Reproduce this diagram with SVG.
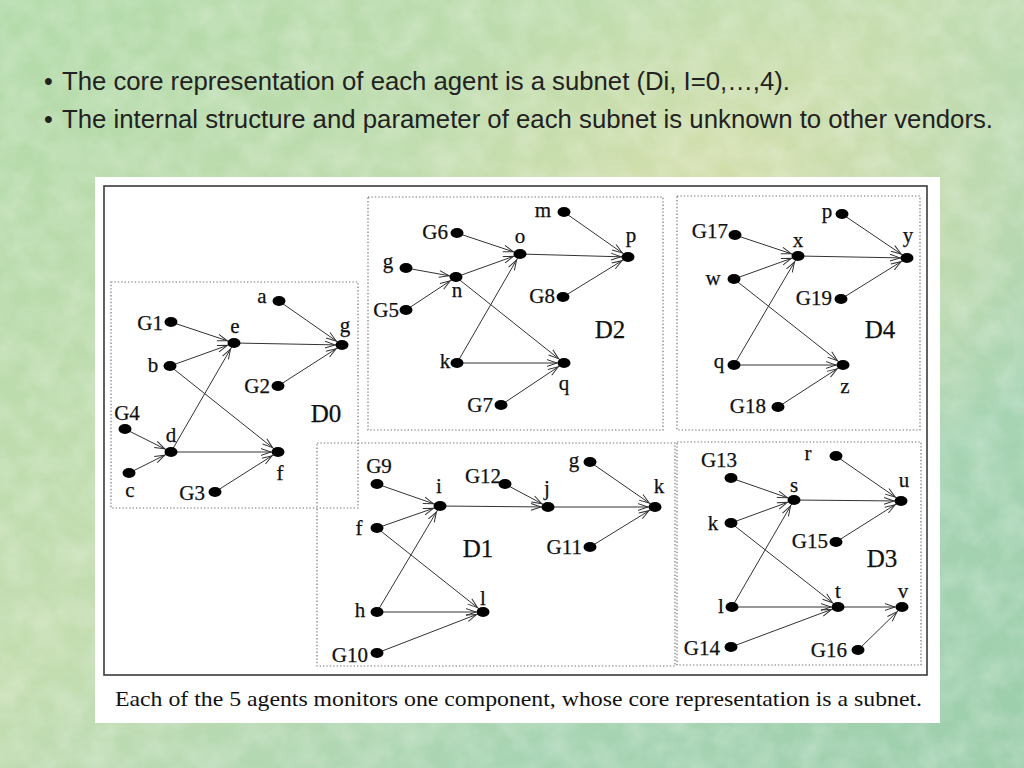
<svg xmlns="http://www.w3.org/2000/svg" width="1024" height="768" viewBox="0 0 1024 768">
<defs>
<linearGradient id="bg" x1="0" y1="0" x2="1" y2="1">
<stop offset="0" stop-color="#b2daa9"/>
<stop offset="0.45" stop-color="#c4ddb0"/>
<stop offset="0.75" stop-color="#a7d4b3"/>
<stop offset="1" stop-color="#9cceab"/>
</linearGradient>
<radialGradient id="warm" cx="0.72" cy="0.3" r="0.35">
<stop offset="0" stop-color="#e2e0a8" stop-opacity="0.6"/>
<stop offset="1" stop-color="#e2e0a8" stop-opacity="0"/>
</radialGradient>
<filter id="tex" x="0" y="0" width="100%" height="100%">
<feTurbulence type="fractalNoise" baseFrequency="0.035" numOctaves="3" seed="7"/>
<feColorMatrix type="matrix" values="0 0 0 0 1  0 0 0 0 1  0 0 0 0 1  0.8 0 0 0 -0.25"/>
</filter>
<marker id="arr" markerUnits="userSpaceOnUse" markerWidth="20" markerHeight="12" viewBox="0 0 20 12" refX="20" refY="6" orient="auto">
<path d="M3,2.6 L13,6 L3,9.4" fill="none" stroke="#333" stroke-width="1"/>
</marker>
<style>
.hd{font-family:"Liberation Sans Narrow","Liberation Sans",Arial,sans-serif;font-size:25px;fill:#222}
.lbl{font-family:"Liberation Serif","Times New Roman",serif;font-size:21px;fill:#111;stroke:#111;stroke-width:0.25}
.dl{font-size:25px}
.mid{text-anchor:middle}
.end{text-anchor:end}
.nd{fill:#000}
.box{fill:none;stroke:#777;stroke-width:1.2;stroke-dasharray:1.4 2}
.e{stroke:#333;stroke-width:1;marker-end:url(#arr)}
.cap{font-family:"Liberation Serif","Times New Roman",serif;font-size:22px;fill:#111}
</style>
</defs>

<rect x="0" y="0" width="1024" height="768" fill="url(#bg)"/>
<rect x="0" y="0" width="1024" height="768" fill="url(#warm)"/>
<rect x="0" y="0" width="1024" height="768" filter="url(#tex)" opacity="0.55"/>

<g id="heading">
<text class="hd" x="44" y="90">•</text>
<text class="hd" x="62" y="90" textLength="728" lengthAdjust="spacingAndGlyphs">The core representation of each agent is a subnet (Di, I=0,…,4).</text>
<text class="hd" x="44" y="128">•</text>
<text class="hd" x="62" y="128" textLength="931" lengthAdjust="spacingAndGlyphs">The internal structure and parameter of each subnet is unknown to other vendors.</text>
</g>

<g id="card">
<rect x="95" y="177" width="845" height="546" fill="#fff"/>
<rect x="104" y="186" width="823" height="489" fill="none" stroke="#3a3a3a" stroke-width="1.6"/>
<text class="cap" x="115" y="706" textLength="807" lengthAdjust="spacingAndGlyphs">Each of the 5 agents monitors one component, whose core representation is a subnet.</text>
</g>

<g id="subnet-boxes">
<rect id="box-d0" class="box" x="111" y="282" width="247" height="226"/>
<rect id="box-d2" class="box" x="368" y="197" width="295" height="233"/>
<rect id="box-d4" class="box" x="677" y="196" width="243" height="234"/>
<rect id="box-d1" class="box" x="317" y="443" width="358" height="223"/>
<rect id="box-d3" class="box" x="677" y="442" width="244" height="223"/>
</g>

<g id="subnet-labels">
<text class="lbl dl mid" x="326" y="422">D0</text>
<text class="lbl dl mid" x="610" y="338">D2</text>
<text class="lbl dl mid" x="880" y="338">D4</text>
<text class="lbl dl mid" x="478" y="557">D1</text>
<text class="lbl dl mid" x="882" y="567">D3</text>
</g>

<g id="connectors">
<!-- D0 -->
<line class="e" x1="171" y1="322" x2="234" y2="343"/>
<line class="e" x1="170" y1="366" x2="234" y2="343"/>
<line class="e" x1="279" y1="301" x2="342" y2="345"/>
<line class="e" x1="234" y1="343" x2="342" y2="345"/>
<line class="e" x1="278" y1="386" x2="342" y2="345"/>
<line class="e" x1="170" y1="366" x2="278" y2="452"/>
<line class="e" x1="171" y1="452" x2="234" y2="343"/>
<line class="e" x1="171" y1="452" x2="278" y2="452"/>
<line class="e" x1="125" y1="429" x2="171" y2="452"/>
<line class="e" x1="129" y1="473" x2="171" y2="452"/>
<line class="e" x1="215" y1="492" x2="278" y2="452"/>
<!-- D2 -->
<line class="e" x1="457" y1="233" x2="520" y2="254"/>
<line class="e" x1="456" y1="277" x2="520" y2="254"/>
<line class="e" x1="406" y1="268" x2="456" y2="277"/>
<line class="e" x1="406" y1="310" x2="456" y2="277"/>
<line class="e" x1="520" y1="254" x2="628" y2="257"/>
<line class="e" x1="564" y1="212" x2="628" y2="257"/>
<line class="e" x1="563" y1="297" x2="628" y2="257"/>
<line class="e" x1="456" y1="277" x2="564" y2="363"/>
<line class="e" x1="457" y1="363" x2="520" y2="254"/>
<line class="e" x1="457" y1="363" x2="564" y2="363"/>
<line class="e" x1="501" y1="405" x2="564" y2="363"/>
<!-- D4 -->
<line class="e" x1="735" y1="235" x2="798" y2="256"/>
<line class="e" x1="734" y1="279" x2="798" y2="256"/>
<line class="e" x1="734" y1="365" x2="798" y2="256"/>
<line class="e" x1="798" y1="256" x2="907" y2="258"/>
<line class="e" x1="842" y1="214" x2="907" y2="258"/>
<line class="e" x1="841" y1="299" x2="907" y2="258"/>
<line class="e" x1="734" y1="279" x2="843" y2="365"/>
<line class="e" x1="734" y1="365" x2="843" y2="365"/>
<line class="e" x1="778" y1="407" x2="843" y2="365"/>
<!-- D1 -->
<line class="e" x1="377" y1="484" x2="440" y2="506"/>
<line class="e" x1="377" y1="528" x2="440" y2="506"/>
<line class="e" x1="377" y1="612" x2="440" y2="506"/>
<line class="e" x1="440" y1="506" x2="548" y2="507"/>
<line class="e" x1="505" y1="484" x2="548" y2="507"/>
<line class="e" x1="548" y1="507" x2="655" y2="507"/>
<line class="e" x1="590" y1="462" x2="655" y2="507"/>
<line class="e" x1="590" y1="547" x2="655" y2="507"/>
<line class="e" x1="377" y1="528" x2="483" y2="612"/>
<line class="e" x1="377" y1="612" x2="483" y2="612"/>
<line class="e" x1="377" y1="653" x2="483" y2="612"/>
<!-- D3 -->
<line class="e" x1="731" y1="478" x2="794" y2="500"/>
<line class="e" x1="731" y1="523" x2="794" y2="500"/>
<line class="e" x1="732" y1="607" x2="794" y2="500"/>
<line class="e" x1="794" y1="500" x2="901" y2="501"/>
<line class="e" x1="836" y1="456" x2="901" y2="501"/>
<line class="e" x1="836" y1="542" x2="901" y2="501"/>
<line class="e" x1="731" y1="523" x2="838" y2="607"/>
<line class="e" x1="732" y1="607" x2="838" y2="607"/>
<line class="e" x1="731" y1="647" x2="838" y2="607"/>
<line class="e" x1="838" y1="607" x2="902" y2="607"/>
<line class="e" x1="858" y1="650" x2="902" y2="607"/>
</g>

<!-- D0 nodes -->
<g id="d0-a"><ellipse class="nd" cx="279" cy="301" rx="6.5" ry="5"/><text class="lbl mid" x="262" y="303">a</text></g>
<g id="d0-G1"><ellipse class="nd" cx="171" cy="322" rx="6.5" ry="5"/><text class="lbl end" x="163" y="330">G1</text></g>
<g id="d0-e"><ellipse class="nd" cx="234" cy="343" rx="6.5" ry="5"/><text class="lbl mid" x="235" y="333">e</text></g>
<g id="d0-g"><ellipse class="nd" cx="342" cy="345" rx="6.5" ry="5"/><text class="lbl mid" x="345" y="332">g</text></g>
<g id="d0-b"><ellipse class="nd" cx="170" cy="366" rx="6.5" ry="5"/><text class="lbl mid" x="153" y="372">b</text></g>
<g id="d0-G2"><ellipse class="nd" cx="278" cy="386" rx="6.5" ry="5"/><text class="lbl end" x="270" y="393">G2</text></g>
<g id="d0-G4"><ellipse class="nd" cx="125" cy="429" rx="6.5" ry="5"/><text class="lbl mid" x="127" y="420">G4</text></g>
<g id="d0-d"><ellipse class="nd" cx="171" cy="452" rx="6.5" ry="5"/><text class="lbl mid" x="171" y="442">d</text></g>
<g id="d0-c"><ellipse class="nd" cx="129" cy="473" rx="6.5" ry="5"/><text class="lbl mid" x="130" y="497">c</text></g>
<g id="d0-f"><ellipse class="nd" cx="278" cy="452" rx="6.5" ry="5"/><text class="lbl mid" x="280" y="480">f</text></g>
<g id="d0-G3"><ellipse class="nd" cx="215" cy="492" rx="6.5" ry="5"/><text class="lbl end" x="205" y="500">G3</text></g>

<!-- D2 nodes -->
<g id="d2-m"><ellipse class="nd" cx="564" cy="212" rx="6.5" ry="5"/><text class="lbl mid" x="543" y="217">m</text></g>
<g id="d2-G6"><ellipse class="nd" cx="457" cy="233" rx="6.5" ry="5"/><text class="lbl end" x="448" y="239">G6</text></g>
<g id="d2-o"><ellipse class="nd" cx="520" cy="254" rx="6.5" ry="5"/><text class="lbl mid" x="520" y="243">o</text></g>
<g id="d2-p"><ellipse class="nd" cx="628" cy="257" rx="6.5" ry="5"/><text class="lbl mid" x="631" y="242">p</text></g>
<g id="d2-g"><ellipse class="nd" cx="406" cy="268" rx="6.5" ry="5"/><text class="lbl mid" x="388" y="268">g</text></g>
<g id="d2-n"><ellipse class="nd" cx="456" cy="277" rx="6.5" ry="5"/><text class="lbl mid" x="457" y="297">n</text></g>
<g id="d2-G5"><ellipse class="nd" cx="406" cy="310" rx="6.5" ry="5"/><text class="lbl end" x="399" y="317">G5</text></g>
<g id="d2-G8"><ellipse class="nd" cx="563" cy="297" rx="6.5" ry="5"/><text class="lbl end" x="555" y="303">G8</text></g>
<g id="d2-k"><ellipse class="nd" cx="457" cy="363" rx="6.5" ry="5"/><text class="lbl mid" x="445" y="368">k</text></g>
<g id="d2-q"><ellipse class="nd" cx="564" cy="363" rx="6.5" ry="5"/><text class="lbl mid" x="564" y="390">q</text></g>
<g id="d2-G7"><ellipse class="nd" cx="501" cy="405" rx="6.5" ry="5"/><text class="lbl end" x="493" y="412">G7</text></g>

<!-- D4 nodes -->
<g id="d4-p"><ellipse class="nd" cx="842" cy="214" rx="6.5" ry="5"/><text class="lbl mid" x="827" y="218">p</text></g>
<g id="d4-G17"><ellipse class="nd" cx="735" cy="235" rx="6.5" ry="5"/><text class="lbl end" x="728" y="238">G17</text></g>
<g id="d4-x"><ellipse class="nd" cx="798" cy="256" rx="6.5" ry="5"/><text class="lbl mid" x="798" y="247">x</text></g>
<g id="d4-y"><ellipse class="nd" cx="907" cy="258" rx="6.5" ry="5"/><text class="lbl mid" x="908" y="242">y</text></g>
<g id="d4-w"><ellipse class="nd" cx="734" cy="279" rx="6.5" ry="5"/><text class="lbl mid" x="713" y="285">w</text></g>
<g id="d4-G19"><ellipse class="nd" cx="841" cy="299" rx="6.5" ry="5"/><text class="lbl end" x="832" y="305">G19</text></g>
<g id="d4-q"><ellipse class="nd" cx="734" cy="365" rx="6.5" ry="5"/><text class="lbl mid" x="719" y="368">q</text></g>
<g id="d4-z"><ellipse class="nd" cx="843" cy="365" rx="6.5" ry="5"/><text class="lbl mid" x="845" y="393">z</text></g>
<g id="d4-G18"><ellipse class="nd" cx="778" cy="407" rx="6.5" ry="5"/><text class="lbl end" x="766" y="413">G18</text></g>

<!-- D1 nodes -->
<g id="d1-G9"><ellipse class="nd" cx="377" cy="484" rx="6.5" ry="5"/><text class="lbl mid" x="379" y="473">G9</text></g>
<g id="d1-i"><ellipse class="nd" cx="440" cy="506" rx="6.5" ry="5"/><text class="lbl mid" x="439" y="493">i</text></g>
<g id="d1-G12"><ellipse class="nd" cx="505" cy="484" rx="6.5" ry="5"/><text class="lbl mid" x="483" y="483">G12</text></g>
<g id="d1-j"><ellipse class="nd" cx="548" cy="507" rx="6.5" ry="5"/><text class="lbl mid" x="547" y="495">j</text></g>
<g id="d1-g"><ellipse class="nd" cx="590" cy="462" rx="6.5" ry="5"/><text class="lbl mid" x="574" y="467">g</text></g>
<g id="d1-k"><ellipse class="nd" cx="655" cy="507" rx="6.5" ry="5"/><text class="lbl mid" x="659" y="493">k</text></g>
<g id="d1-f"><ellipse class="nd" cx="377" cy="528" rx="6.5" ry="5"/><text class="lbl mid" x="359" y="535">f</text></g>
<g id="d1-G11"><ellipse class="nd" cx="590" cy="547" rx="6.5" ry="5"/><text class="lbl end" x="582" y="554">G11</text></g>
<g id="d1-h"><ellipse class="nd" cx="377" cy="612" rx="6.5" ry="5"/><text class="lbl mid" x="360" y="617">h</text></g>
<g id="d1-l"><ellipse class="nd" cx="483" cy="612" rx="6.5" ry="5"/><text class="lbl mid" x="483" y="605">l</text></g>
<g id="d1-G10"><ellipse class="nd" cx="377" cy="653" rx="6.5" ry="5"/><text class="lbl end" x="368" y="662">G10</text></g>

<!-- D3 nodes -->
<g id="d3-G13"><ellipse class="nd" cx="731" cy="478" rx="6.5" ry="5"/><text class="lbl mid" x="719" y="467">G13</text></g>
<g id="d3-r"><ellipse class="nd" cx="836" cy="456" rx="6.5" ry="5"/><text class="lbl mid" x="808" y="460">r</text></g>
<g id="d3-s"><ellipse class="nd" cx="794" cy="500" rx="6.5" ry="5"/><text class="lbl mid" x="794" y="492">s</text></g>
<g id="d3-u"><ellipse class="nd" cx="901" cy="501" rx="6.5" ry="5"/><text class="lbl mid" x="904" y="487">u</text></g>
<g id="d3-k"><ellipse class="nd" cx="731" cy="523" rx="6.5" ry="5"/><text class="lbl mid" x="713" y="530">k</text></g>
<g id="d3-G15"><ellipse class="nd" cx="836" cy="542" rx="6.5" ry="5"/><text class="lbl end" x="828" y="548">G15</text></g>
<g id="d3-l"><ellipse class="nd" cx="732" cy="607" rx="6.5" ry="5"/><text class="lbl mid" x="721" y="613">l</text></g>
<g id="d3-t"><ellipse class="nd" cx="838" cy="607" rx="6.5" ry="5"/><text class="lbl mid" x="838" y="598">t</text></g>
<g id="d3-v"><ellipse class="nd" cx="902" cy="607" rx="6.5" ry="5"/><text class="lbl mid" x="903" y="598">v</text></g>
<g id="d3-G14"><ellipse class="nd" cx="731" cy="647" rx="6.5" ry="5"/><text class="lbl end" x="720" y="655">G14</text></g>
<g id="d3-G16"><ellipse class="nd" cx="858" cy="650" rx="6.5" ry="5"/><text class="lbl end" x="847" y="657">G16</text></g>
</svg>
